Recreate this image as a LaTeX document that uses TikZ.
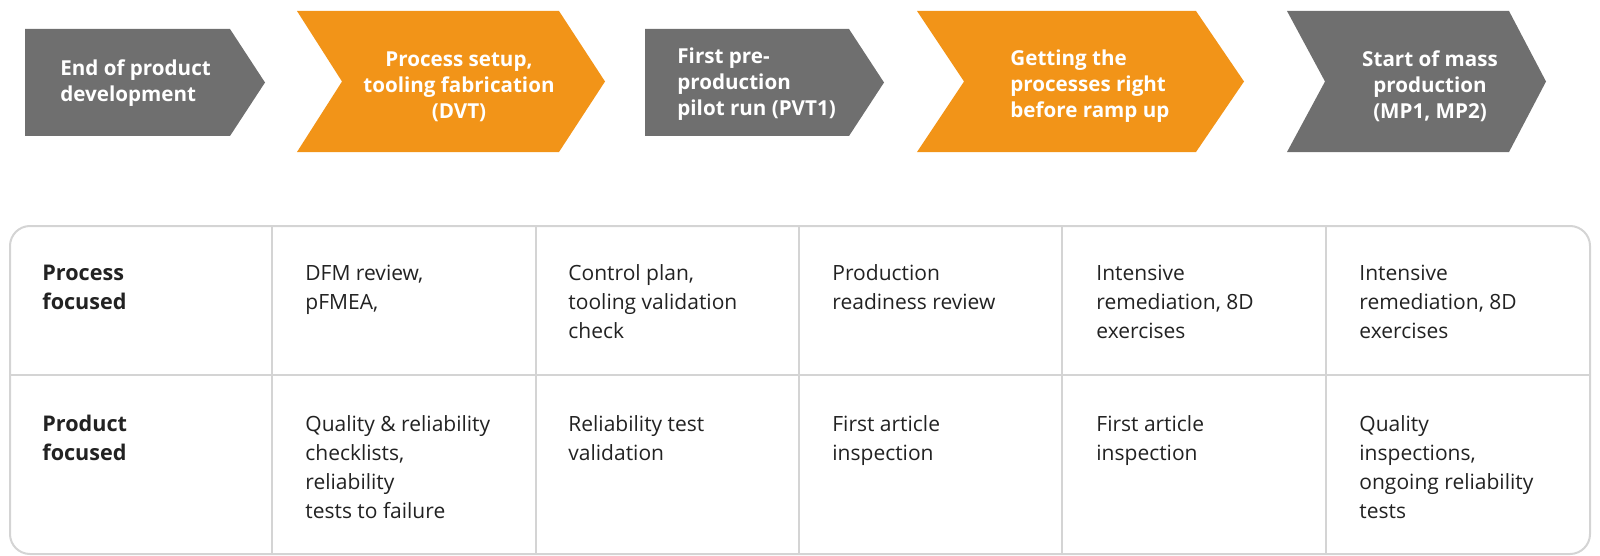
\documentclass[tikz,border=0pt]{standalone}
\usepackage{fontspec}
\setmainfont{Open Sans}
\definecolor{cgray}{RGB}{111,111,111}
\definecolor{corange}{RGB}{242,148,24}
\definecolor{cline}{RGB}{212,212,212}
\definecolor{ctext}{RGB}{34,34,34}
\begin{document}
\begin{tikzpicture}[x=0.5pt,y=-0.5pt,
  head/.style={text=white,font=\bfseries\fontsize{10.3}{13}\selectfont,inner sep=0pt},
  cell/.style={text=ctext,font=\fontsize{10.5}{14.5}\selectfont,align=left,anchor=north west,inner sep=0pt},
  rowhead/.style={cell,font=\bfseries\fontsize{10.8}{14.5}\selectfont},
  grid/.style={draw=cline,line width=1pt}]
\useasboundingbox (0,0) rectangle (1600,556);
% chevrons
\fill[cgray] (25,29) -- (230,29) -- (265,82.5) -- (230,136) -- (25,136) -- cycle;
\fill[corange] (297,11) -- (559,11) -- (605,81.5) -- (559,152) -- (297,152) -- (342,81.5) -- cycle;
\fill[cgray] (645,29) -- (849,29) -- (884,82.5) -- (849,136) -- (645,136) -- cycle;
\fill[corange] (917,11) -- (1196,11) -- (1244,81.5) -- (1196,152) -- (917,152) -- (964,81.5) -- cycle;
\fill[cgray] (1287,11) -- (1509,11) -- (1546,81.5) -- (1509,152) -- (1287,152) -- (1325,81.5) -- cycle;
\node[head,align=left,anchor=west] (h1) at (60,83.5) {End of product\\development};
\node[head,align=center] (h2) at (459,86.5) {Process setup,\\tooling fabrication\\(DVT)};
\node[head,align=left,anchor=west] (h3) at (677,84.5) {First pre-\\production\\pilot run (PVT1)};
\node[head,align=left,anchor=west] (h4) at (1010,86.5) {Getting the\\processes right\\before ramp up};
\node[head,align=center] (h5) at (1430,86) {Start of mass\\production\\(MP1, MP2)};
% table
\draw[grid,rounded corners=10pt] (10,226) rectangle (1590,554);
\draw[grid] (10,375) -- (1590,375);
\foreach \cx in {272,536,799,1062,1326} \draw[grid] (\cx,226) -- (\cx,554);
\node[rowhead] (r1) at (42,259.7) {\strut Process\\focused};
\node[rowhead] (r2) at (42,410.7) {\strut Product\\focused};
\node[cell] (a2) at (305,259.7) {\strut DFM review,\\pFMEA,};
\node[cell] (a3) at (568,259.7) {\strut Control plan,\\tooling validation\\check};
\node[cell] (a4) at (832,259.7) {\strut Production\\readiness review};
\node[cell] (a5) at (1096,259.7) {\strut Intensive\\remediation, 8D\\exercises};
\node[cell] (a6) at (1359,259.7) {\strut Intensive\\remediation, 8D\\exercises};
\node[cell] (b2) at (305,410.7) {\strut Quality \& reliability\\checklists,\\reliability\\tests to failure};
\node[cell] (b3) at (568,410.7) {\strut Reliability test\\validation};
\node[cell] (b4) at (832,410.7) {\strut First article\\inspection};
\node[cell] (b5) at (1096,410.7) {\strut First article\\inspection};
\node[cell] (b6) at (1359,410.7) {\strut Quality\\inspections,\\ongoing reliability\\tests};
\end{tikzpicture}
\end{document}
